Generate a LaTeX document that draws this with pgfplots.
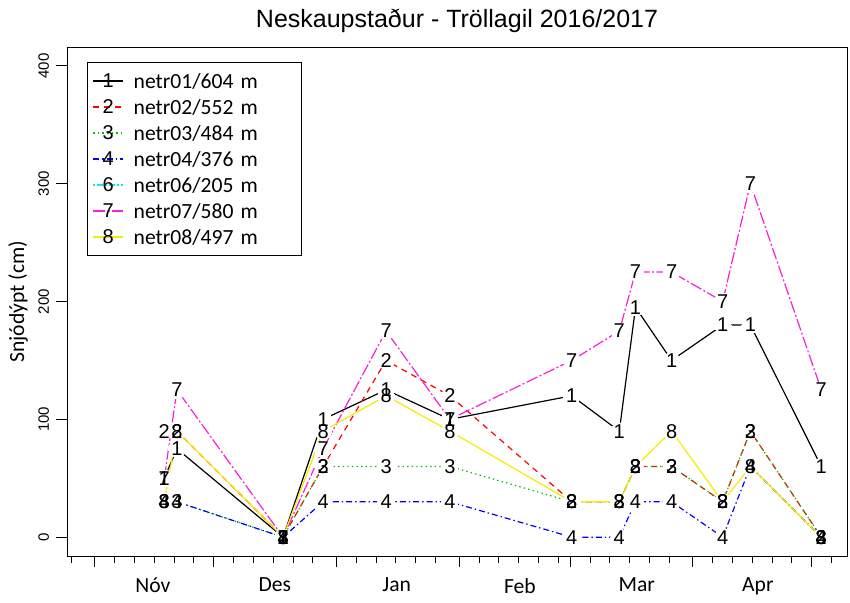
\documentclass[border=0pt]{standalone}
\usepackage{fontspec}
\setmainfont{Carlito}
\newfontfamily\lsans{Liberation Sans}
\usepackage{pgfplots}
\usepackage{pgfplotstable}
\pgfplotsset{compat=1.18}

\definecolor{cRed}{HTML}{FF0000}
\definecolor{cGreen}{HTML}{00C000}
\definecolor{cBlue}{HTML}{0000FF}
\definecolor{cCyan}{HTML}{00F0F0}
\definecolor{cMag}{HTML}{F820D8}
\definecolor{cYel}{HTML}{F5EC00}

% day number: 1 Nov 2016 = 0
\pgfplotstableread{
d v
17.5 50
20.7 75
47.5 0
57.6 100
73.5 125
89.6 100
120.4 120
132.4 90
136.5 195
145.6 150
158.5 180
165.5 180
183.4 60
}\tOne
\pgfplotstableread{
d v
17.5 90
20.7 90
47.5 0
57.6 60
73.5 150
89.6 120
120.4 30
132.4 30
136.5 60
145.6 60
158.5 30
165.5 90
183.4 0
}\tTwo
\pgfplotstableread{
d v
17.5 30
20.7 30
47.5 0
57.6 60
73.5 60
89.6 60
120.4 30
132.4 30
136.5 60
145.6 60
158.5 30
165.5 90
183.4 0
}\tThree
\pgfplotstableread{
d v
17.5 30
20.7 30
47.5 0
57.6 30
73.5 30
89.6 30
120.4 0
132.4 0
136.5 30
145.6 30
158.5 0
165.5 60
183.4 0
}\tFour
\pgfplotstableread{
d v
17.5 50
20.7 125
47.5 0
57.6 75
73.5 175
89.6 100
120.4 150
132.4 175
136.5 225
145.6 225
158.5 200
165.5 300
183.4 125
}\tSeven
\pgfplotstableread{
d v
17.5 30
20.7 90
47.5 0
57.6 90
73.5 120
89.6 90
120.4 30
132.4 30
136.5 60
145.6 90
158.5 30
165.5 60
183.4 0
}\tEight

\pgfplotsset{
  lsOne/.style={color=black, solid, line width=0.6pt},
  lsTwo/.style={color=cRed, dash pattern=on 3pt off 2.5pt, line width=0.6pt},
  lsThree/.style={color=cGreen, dash pattern=on 0.7pt off 1.6pt, line width=0.6pt},
  lsFour/.style={color=cBlue, dash pattern=on 3pt off 1.5pt on 0.7pt off 1.5pt, line width=0.6pt},
  lsSix/.style={color=cCyan, dash pattern=on 1pt off 1pt on 3pt off 1pt, line width=0.6pt},
  lsSeven/.style={color=cMag, dash pattern=on 6pt off 1.2pt on 1pt off 1.2pt, line width=0.6pt},
  lsEight/.style={color=cYel, solid, line width=0.6pt},
  tm/.style={mark=text, text mark={\lsans\fontsize{10}{11}\selectfont #1}, mark options={solid}},
  gap/.style={only marks, color=white, mark=*, mark size=4.2pt, mark options={fill=white, draw=white, line width=0pt}, forget plot},
}

\begin{document}
\begin{tikzpicture}
\useasboundingbox (-33.5pt,-23pt) rectangle (391.5pt,278pt);
\begin{axis}[
  at={(0pt,0pt)}, anchor=south west,
  scale only axis, width=390pt, height=254.5pt,
  xmin=-7.07, xmax=189.9, ymin=-16, ymax=416,
  axis line style={line width=0.5pt},
  every tick/.style={line width=0.5pt, black},
  tick pos=left, tick align=outside,
  major tick length=5.5pt, minor tick length=3.5pt,
  xtick={0,30,61,92,120,151,181},
  xticklabels={},
  minor xtick={-6,5,10,15,20,25,35,40,45,50,55,66,71,76,81,86,97,102,107,112,117,125,130,135,140,145,156,161,166,171,176,186},
  extra x ticks={14.6,45.4,76.2,107.3,136.8,167.4},
  extra x tick labels={Nóv,Des,Jan,Feb,Mar,Apr},
  extra x tick style={major tick length=0pt, tick style={draw=none}, xticklabel style={yshift=-7.5pt, font=\fontsize{10.8}{12}\selectfont}},
  ytick={0,100,200,300,400},
  yticklabels={0,100,200,300,400},
  yticklabel style={rotate=90, anchor=south, font=\lsans\fontsize{7.5}{8}\selectfont},
  /pgf/number format/assume math mode=true,
  ylabel={Snjódýpt (cm)},
  ylabel style={at={(axis description cs:-0.0628,0.5)}, anchor=center, font=\fontsize{10.8}{12}\selectfont},
  title={Neskaupstaður - Tröllagil 2016/2017},
  title style={at={(axis description cs:0.5,1.0275)}, anchor=center, font=\lsans\fontsize{12.5}{14}\selectfont},
  legend image code/.code={
    \draw[mark repeat=2,mark phase=2,#1] plot coordinates {(0pt,0pt) (7.5pt,0pt) (15pt,0pt)};
  },
  legend cell align=left,
  legend style={at={(axis description cs:0,1)}, anchor=north west, xshift=10pt, yshift=-7.5pt,
    draw=black, line width=0.5pt, inner xsep=2.5pt, inner ysep=2.75pt, row sep=0pt, column sep=3.5pt,
    font=\fontsize{10.8}{13}\selectfont,
    nodes={inner sep=1.5pt, text height=8.5pt, text depth=1.5pt, text width=80pt, align=left}},
]
% lines
\addplot[lsOne, forget plot] table[x=d,y=v]{\tOne};
\addplot[lsTwo, forget plot] table[x=d,y=v]{\tTwo};
\addplot[lsThree, forget plot] table[x=d,y=v]{\tThree};
\addplot[lsFour, forget plot] table[x=d,y=v]{\tFour};
\addplot[lsSeven, forget plot] table[x=d,y=v]{\tSeven};
\addplot[lsEight, forget plot] table[x=d,y=v]{\tEight};
% gaps around the number marks
\addplot[gap] table[x=d,y=v]{\tOne};
\addplot[gap] table[x=d,y=v]{\tTwo};
\addplot[gap] table[x=d,y=v]{\tThree};
\addplot[gap] table[x=d,y=v]{\tFour};
\addplot[gap] table[x=d,y=v]{\tSeven};
\addplot[gap] table[x=d,y=v]{\tEight};
% number marks
\addplot[only marks, color=black, tm=1, forget plot] table[x=d,y=v]{\tOne};
\addplot[only marks, color=cRed, tm=2, forget plot] table[x=d,y=v]{\tTwo};
\addplot[only marks, color=cGreen, tm=3, forget plot] table[x=d,y=v]{\tThree};
\addplot[only marks, color=cBlue, tm=4, forget plot] table[x=d,y=v]{\tFour};
\addplot[only marks, color=cMag, tm=7, forget plot] table[x=d,y=v]{\tSeven};
\addplot[only marks, color=cYel, tm=8, forget plot] table[x=d,y=v]{\tEight};
% legend
\addlegendimage{lsOne, tm=1}
\addlegendentry{netr01/604 m}
\addlegendimage{lsTwo, tm=2}
\addlegendentry{netr02/552 m}
\addlegendimage{lsThree, tm=3}
\addlegendentry{netr03/484 m}
\addlegendimage{lsFour, tm=4}
\addlegendentry{netr04/376 m}
\addlegendimage{lsSix, tm=6}
\addlegendentry{netr06/205 m}
\addlegendimage{lsSeven, tm=7}
\addlegendentry{netr07/580 m}
\addlegendimage{lsEight, tm=8}
\addlegendentry{netr08/497 m}
\end{axis}
\end{tikzpicture}
\end{document}
